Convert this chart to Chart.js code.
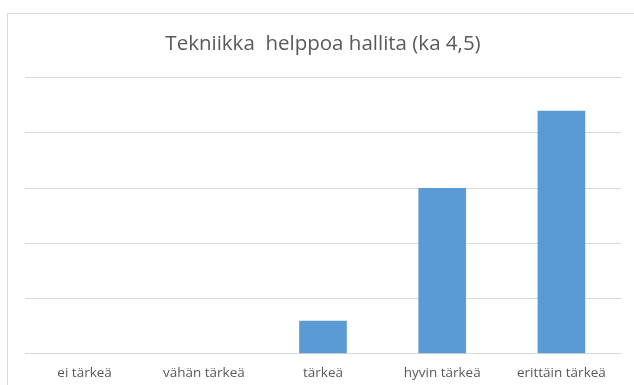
<!DOCTYPE html>
<html>
<head>
<meta charset="utf-8">
<script src="https://cdn.jsdelivr.net/npm/chart.js@4"></script>
<style>
  html, body { margin: 0; padding: 0; background: #fff; overflow: hidden; }
  .frame {
    position: absolute; left: 7px; top: 13px;
    width: 640px; height: 400px;
    border: 1px solid #d9d9d9;
  }
  #chart { position: absolute; left: 0; top: 0; }
</style>
</head>
<body>
<div class="frame"></div>
<canvas id="chart" width="634" height="392"></canvas>
<script>
const categories = ['ei tärkeä', 'vähän tärkeä', 'tärkeä', 'hyvin tärkeä', 'erittäin tärkeä'];
const answers = [0, 0, 3, 15, 22];
const chartTitle = 'Tekniikka  helppoa hallita (ka 4,5)';

const textGray = '#595959';
const lineGray = '#d9d9d9';

new Chart(document.getElementById('chart').getContext('2d'), {
  type: 'bar',
  data: {
    labels: categories,
    datasets: [{
      data: answers,
      backgroundColor: '#5b9bd5',
      barPercentage: 0.4,
      categoryPercentage: 1
    }]
  },
  options: {
    responsive: false,
    animation: false,
    layout: { padding: { top: 22, left: 25, right: 13, bottom: 0 } },
    scales: {
      x: {
        grid: { display: false, drawTicks: false },
        border: { color: lineGray },
        ticks: {
          color: textGray,
          padding: 11,
          font: { family: 'Open Sans', size: 13.5 }
        }
      },
      y: {
        min: 0,
        max: 25,
        ticks: { display: false, stepSize: 5 },
        border: { display: false },
        grid: { color: lineGray, drawTicks: false }
      }
    },
    plugins: {
      legend: { display: false },
      tooltip: { enabled: false },
      title: {
        display: true,
        text: chartTitle,
        color: textGray,
        padding: { top: 10, bottom: 21 },
        font: { family: 'Open Sans', size: 20.5, weight: 'normal' }
      }
    }
  }
});
</script>
</body>
</html>
